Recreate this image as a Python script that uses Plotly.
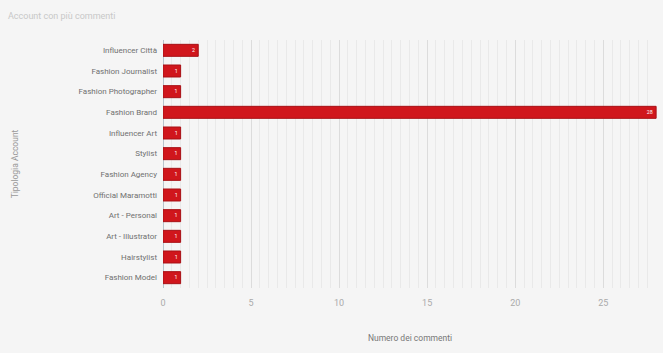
import plotly.graph_objects as go

categories = ["Influencer Città", "Fashion Journalist", "Fashion Photographer", "Fashion Brand",
              "Influencer Art", "Stylist", "Fashion Agency", "Official Maramotti",
              "Art - Personal", "Art - Illustrator", "Hairstylist", "Fashion Model"]
values = [2, 1, 1, 28, 1, 1, 1, 1, 1, 1, 1, 1]

fig = go.Figure(go.Bar(
    x=values, y=categories, orientation="h",
    marker=dict(color="#d0161c", line=dict(color="#a81015", width=1)),
    text=[str(v) for v in values], textposition="inside", insidetextanchor="end", textangle=0,
    textfont=dict(color="white", size=8, family="Roboto"),
    width=0.58,
))

fig.update_layout(
    width=663, height=353,
    margin=dict(l=163, r=6, t=40, b=65),
    paper_bgcolor="#f5f5f5", plot_bgcolor="#f5f5f5",
    font=dict(family="Roboto", color="#777", size=9),
    title=dict(text="Account con più commenti", x=0.012, xanchor="left", y=0.965, yanchor="top",
               font=dict(size=9, color="#c8c8c8")),
    showlegend=False,
    xaxis=dict(range=[0, 28.05], dtick=5, tick0=0, showgrid=True, gridcolor="#dcdcdc", gridwidth=1,
               minor=dict(dtick=0.5, showgrid=True, gridcolor="#e9e9e9", gridwidth=1),
               zeroline=True, zerolinecolor="#b8c4cc", zerolinewidth=1,
               tickfont=dict(size=9, color="#aaa"), ticks="", ticklabelstandoff=8,
               title=dict(text="Numero dei commenti", font=dict(size=8.5, color="#777"), standoff=28)),
    yaxis=dict(autorange="reversed", showgrid=False, ticks="", ticklabelstandoff=5,
               tickfont=dict(size=8, color="#707070"),
               title=dict(text="Tipologia Account", font=dict(size=8.5, color="#999"), standoff=58)),
)

fig.write_html("out.html")
